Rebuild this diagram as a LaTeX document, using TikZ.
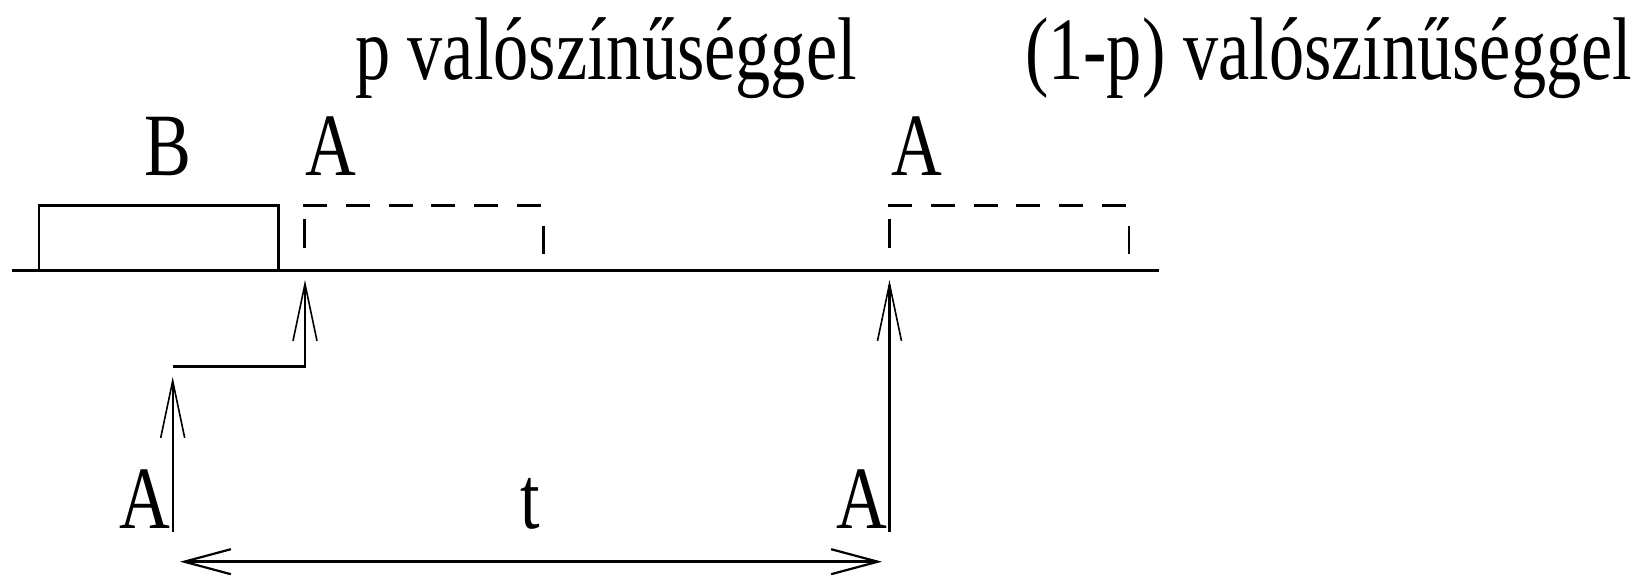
\documentclass[tikz,border=0pt]{standalone}
\usepackage{fontspec}
\setmainfont{Liberation Serif}
\usepackage{graphicx}
\usetikzlibrary{arrows.meta}
\newcommand{\nar}[1]{\scalebox{0.79}[1]{#1}}
\begin{document}
\begin{tikzpicture}[x=0.5pt,y=-0.5pt,
  lbl/.style={inner sep=0pt, outer sep=0pt, font=\fontsize{44.5pt}{50pt}\selectfont},
  axisline/.style={line width=1.65pt},
  boxline/.style={draw, line width=1.35pt, inner sep=0pt, outer sep=0pt, minimum width=119.8pt, minimum height=32.7pt},
  dashline/.style={line width=1.35pt, dash pattern=on 12pt off 9.4pt},
  tickline/.style={line width=1.35pt},
  uptip/.tip={Straight Barb[length=28.5pt, width=12pt, line width=0.8pt]},
  thinarrow/.style={line width=0.85pt, -uptip},
  boldarrow/.style={line width=1.35pt, -uptip},
  spanarrow/.style={line width=1.75pt, {Straight Barb[length=23.3pt, width=12.5pt, line width=1.1pt]}-{Straight Barb[length=23.3pt, width=12.5pt, line width=1.1pt]}}
]
\useasboundingbox (0,0) rectangle (1640,574);

% labels
\node[lbl, anchor=base west] (pv) at (355,79) {\nar{p valószínűséggel}};
\node[lbl, anchor=base west] (qv) at (1025,79) {\nar{(1-p) valószínűséggel}};
\node[lbl, anchor=base] (B) at (168.4,175) {\nar{B}};
\node[lbl, anchor=base] (A1) at (331,175) {\nar{A}};
\node[lbl, anchor=base] (A2) at (916.5,175) {\nar{A}};
\node[lbl, anchor=base] (A3) at (144.7,528.3) {\nar{A}};
\node[lbl, anchor=base] (tt) at (530,528.3) {\nar{t}};
\node[lbl, anchor=base] (A4) at (862,528.3) {\nar{A}};

% time axis
\coordinate (axL) at (11.5,270.7);
\coordinate (axR) at (1159,270.7);
\draw[axisline] (axL) -- (axR);

% B box
\node[boxline] (boxB) at (158.8,238) {};

% dashed A slots
\coordinate (d1a) at (303,205.3);
\coordinate (d1b) at (541,205.3);
\coordinate (d2a) at (888,205.3);
\coordinate (d2b) at (1126,205.3);
\draw[dashline] (d1a) -- (d1b);
\draw[dashline] (d2a) -- (d2b);

\coordinate (k1a) at (304.6,219);  \coordinate (k1b) at (304.6,247.5);
\coordinate (k2a) at (543.8,226);  \coordinate (k2b) at (543.8,253.5);
\coordinate (k3a) at (889.3,219);  \coordinate (k3b) at (889.3,247.5);
\coordinate (k4a) at (1129,226);   \coordinate (k4b) at (1129,253.5);
\draw[tickline] (k1a) -- (k1b);
\draw[tickline] (k2a) -- (k2b);
\draw[tickline] (k3a) -- (k3b);
\draw[tickline] (k4a) -- (k4b);

% arrows
\coordinate (s1) at (172.7,531.7);
\coordinate (e1) at (172.7,377);
\draw[thinarrow] (s1) -- (e1);

\coordinate (h1) at (172.7,366.7);
\coordinate (h2) at (305,366.7);
\coordinate (e2) at (305,280);
\draw[boldarrow] (h1) -- (h2) -- (e2);

\coordinate (s3) at (889.5,531.7);
\coordinate (e3) at (889.5,280);
\draw[boldarrow] (s3) -- (e3);

\coordinate (spL) at (180,561.7);
\coordinate (spR) at (882,561.7);
\draw[spanarrow] (spL) -- (spR);
\end{tikzpicture}
\end{document}
